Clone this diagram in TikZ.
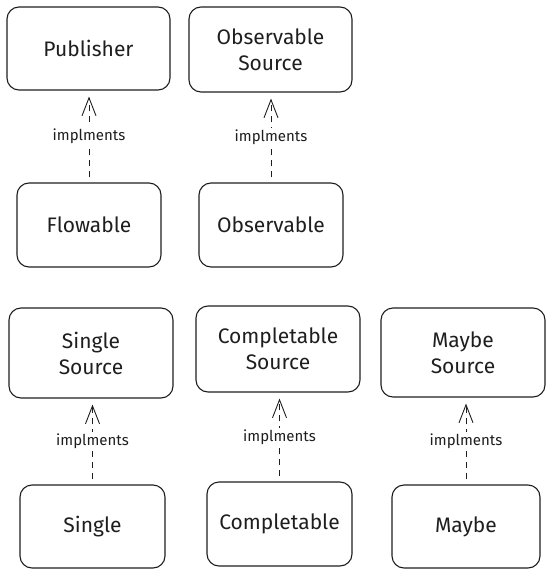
\documentclass[tikz,border=0pt]{standalone}
\usepackage{fontspec}
\setmainfont{Fira Sans}
\usetikzlibrary{arrows.meta}
\definecolor{ink}{HTML}{1E1E1E}
\tikzset{
    box/.style={draw=ink, line width=1.1pt, rounded corners=12pt, align=center,
        font=\fontsize{21}{26}\selectfont, text=ink},
    impl/.style={draw=ink, line width=0.9pt, dashed, dash pattern=on 6pt off 5pt,
        -{Straight Barb[length=18pt, width=14pt, line width=0.9pt]},
        shorten <=5pt, shorten >=6pt},
    lbl/.style={fill=white, inner sep=2pt, text=ink, font=\fontsize{15}{17}\selectfont}
}
\begin{document}
\begin{tikzpicture}[x=1pt, y=-1pt]
    \useasboundingbox (0,0) rectangle (550,575);

    % =================================================================
    % PART 1: FLOWABLE / OBSERVABLE
    % =================================================================
    \node[box, minimum width=163pt, minimum height=83pt] (publisher) at (88.5,48.5) {Publisher};
    \node[box, minimum width=163pt, minimum height=85pt] (obsSource) at (270.5,49.5) {Observable\\Source};
    \node[box, minimum width=144pt, minimum height=84pt] (flowable) at (89,225) {Flowable};
    \node[box, minimum width=144pt, minimum height=84pt] (observable) at (271,225) {Observable};

    % dashed arrows "implments"
    \draw[impl] (flowable.north) -- node[lbl, pos=0.5] {implments} (flowable.north |- publisher.south);
    \draw[impl] (observable.north) -- node[lbl, pos=0.5] {implments} (observable.north |- obsSource.south);

    % =================================================================
    % PART 2: SINGLE / COMPLETABLE / MAYBE
    % =================================================================
    \node[box, minimum width=164pt, minimum height=90pt] (singleSource) at (91,353) {Single\\Source};
    \node[box, minimum width=164pt, minimum height=86pt] (complSource) at (278,349) {Completable\\Source};
    \node[box, minimum width=164pt, minimum height=89pt] (maybeSource) at (463,352.5) {Maybe\\Source};
    \node[box, minimum width=145pt, minimum height=83pt] (single) at (92.5,526.5) {Single};
    \node[box, minimum width=145pt, minimum height=84pt] (completable) at (279.5,524) {Completable};
    \node[box, minimum width=148pt, minimum height=83pt] (maybe) at (466,526.5) {Maybe};

    \draw[impl] (single.north) -- node[lbl] {implments} (single.north |- singleSource.south);
    \draw[impl] (completable.north) -- node[lbl] {implments} (completable.north |- complSource.south);
    \draw[impl] (maybe.north) -- node[lbl] {implments} (maybe.north |- maybeSource.south);

\end{tikzpicture}
\end{document}
